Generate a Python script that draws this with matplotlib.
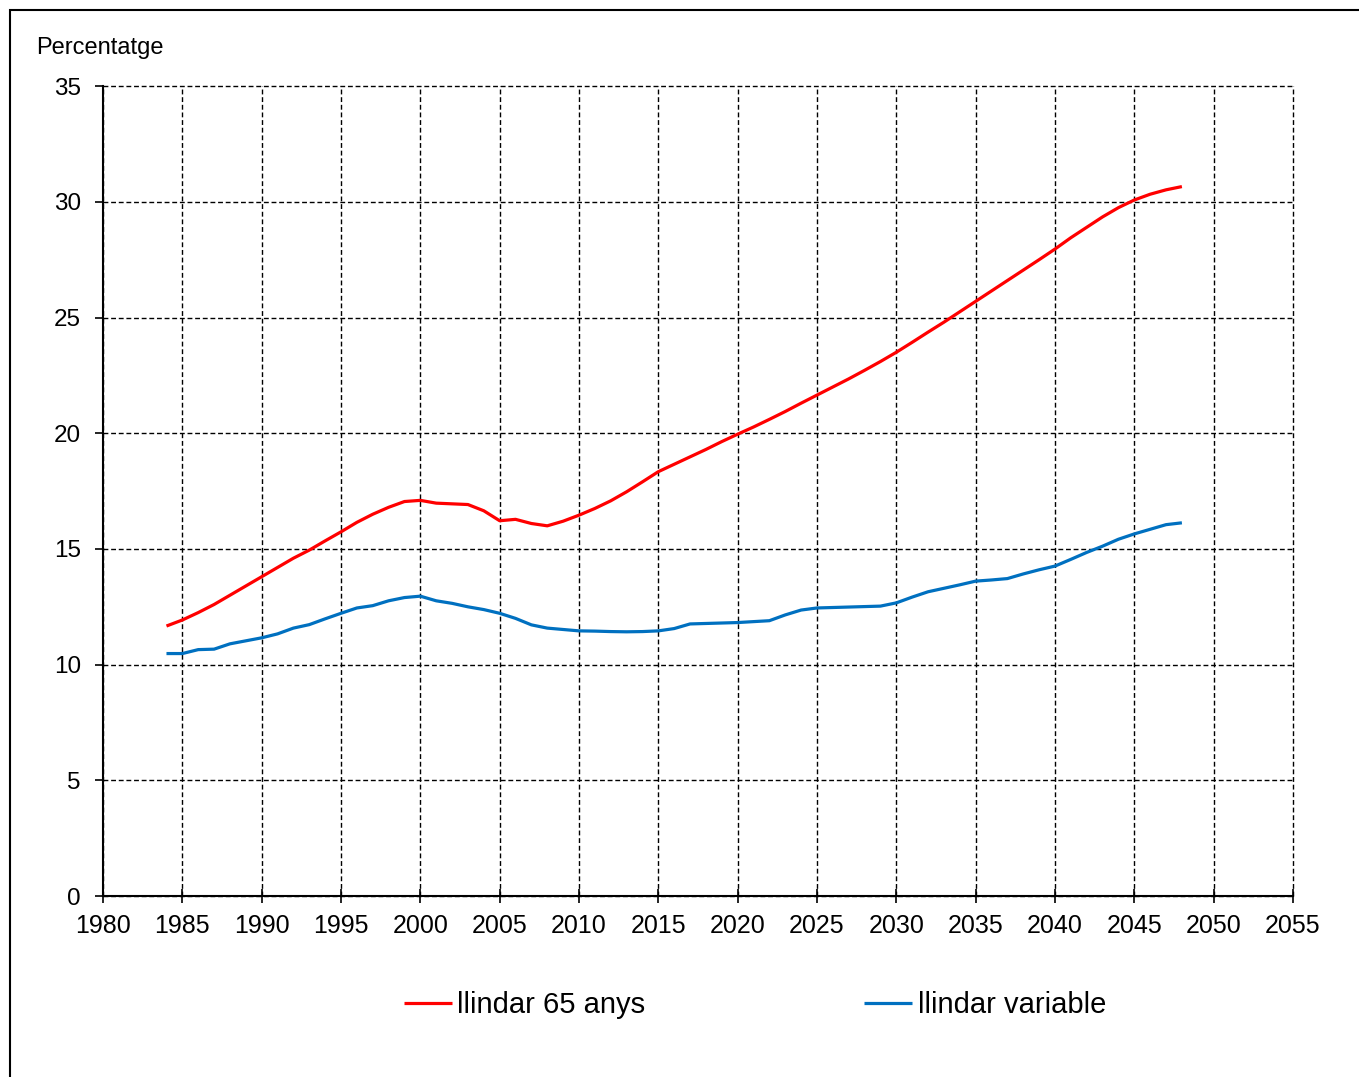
import numpy as np
import matplotlib
matplotlib.use("Agg")
import matplotlib.pyplot as plt
from matplotlib.patches import Rectangle

plt.rcParams['font.family'] = ['Liberation Sans', 'DejaVu Sans']

years = list(range(1984, 2049))

llindar_65 = [
    11.67, 11.93, 12.25, 12.6, 13.0, 13.4, 13.8, 14.2, 14.6, 14.95,
    15.35, 15.74, 16.15, 16.5, 16.8, 17.05, 17.1, 16.98, 16.95, 16.92,
    16.65, 16.22, 16.28, 16.1, 16.0, 16.2, 16.46, 16.75, 17.08, 17.47,
    17.9, 18.34, 18.66, 18.98, 19.3, 19.64, 19.96, 20.27, 20.6, 20.94,
    21.3, 21.65, 22.0, 22.35, 22.72, 23.1, 23.5, 23.93, 24.37, 24.8,
    25.25, 25.7, 26.15, 26.6, 27.05, 27.5, 27.96, 28.45, 28.9, 29.35,
    29.75, 30.08, 30.33, 30.52, 30.66,
]

llindar_variable = [
    10.48, 10.48, 10.65, 10.67, 10.9, 11.03, 11.16, 11.33, 11.58, 11.73,
    11.98, 12.22, 12.45, 12.55, 12.76, 12.9, 12.96, 12.76, 12.65, 12.5,
    12.38, 12.22, 12.0, 11.72, 11.58, 11.52, 11.46, 11.45, 11.43, 11.42,
    11.43, 11.46, 11.56, 11.76, 11.78, 11.8, 11.82, 11.86, 11.9, 12.15,
    12.36, 12.45, 12.47, 12.49, 12.51, 12.53, 12.67, 12.92, 13.15, 13.3,
    13.45, 13.61, 13.66, 13.72, 13.92, 14.1, 14.26, 14.55, 14.85, 15.12,
    15.42, 15.65, 15.85, 16.05, 16.13,
]

x_ticks = list(range(1980, 2056, 5))
y_ticks = list(range(0, 36, 5))

fig = plt.figure(figsize=(13.59, 10.77), dpi=100)
ax = fig.add_axes([0.0758, 0.168, 0.8756, 0.752])

ax.plot(years, llindar_65, color='#ff0000', lw=2.3, label='llindar 65 anys',
        solid_joinstyle='round', solid_capstyle='butt')
ax.plot(years, llindar_variable, color='#0070c0', lw=2.3, label='llindar variable',
        solid_joinstyle='round', solid_capstyle='butt')

ax.set_xlim(1980, 2055)
ax.set_ylim(0, 35)
ax.set_xticks(x_ticks)
ax.set_yticks(y_ticks)
ax.grid(True, color='black', linestyle=(0, (3.5, 2)), lw=1.0)
ax.set_axisbelow(True)
# keep the gridlines on the upper/right limits fully visible
for gl in ax.xaxis.get_gridlines() + ax.yaxis.get_gridlines():
    gl.set_clip_on(False)

for side in ['top', 'right']:
    ax.spines[side].set_visible(False)
ax.spines['left'].set_linewidth(1.5)
ax.spines['bottom'].set_linewidth(1.5)

ax.tick_params(axis='y', direction='out', length=6, width=1.2, labelsize=17.5, pad=10)
ax.tick_params(axis='x', direction='inout', length=10, width=1.2, labelsize=18, pad=8)

fig.text(0.0265, 0.955, 'Percentatge', fontsize=17, ha='left', va='center')

fig.legend(loc='center', bbox_to_anchor=(0.5555, 0.0665), ncol=2, frameon=False,
           fontsize=21, handlelength=1.65, handletextpad=0.18, columnspacing=7.5)

# outer frame of the chart area
fig.patches.append(Rectangle((0.0074, -0.05), 1.2, 1.0407, transform=fig.transFigure,
                             fill=False, edgecolor='black', lw=1.5))

fig.savefig('out.png', dpi=100)
